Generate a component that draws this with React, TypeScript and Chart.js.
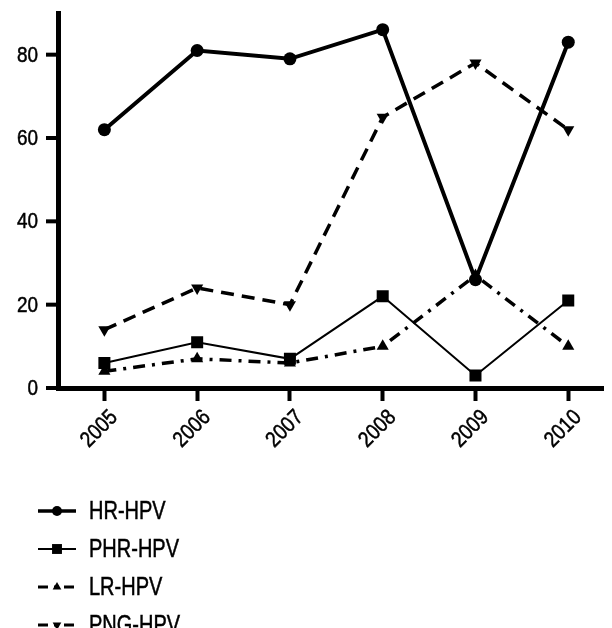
import React, { useEffect, useRef } from "react";
import { Chart, registerables } from "chart.js";

Chart.register(...registerables);

const years = [2005, 2006, 2007, 2008, 2009, 2010];
const yTicks = [0, 20, 40, 60, 80];
const seriesNames = ["HR-HPV", "PHR-HPV", "LR-HPV", "PNG-HPV"];
const hrHpv = [62, 81, 79, 86, 26, 83];
const phrHpv = [6, 11, 7, 22, 3, 21];
const lrHpv = [4, 7, 6, 10, 27, 10];
const pngHpv = [14, 24, 20, 65, 78, 62];

const X_MIN = 2004.5;
const X_MAX = 2010.38;
const FONT = "'Liberation Sans', Arial, sans-serif";

function narrowText(
  ctx: CanvasRenderingContext2D,
  text: string,
  x: number,
  y: number,
  size: number,
  sx: number,
  align: CanvasTextAlign,
  rot = 0
) {
  ctx.save();
  ctx.setLineDash([]);
  ctx.fillStyle = "#000";
  ctx.strokeStyle = "#000";
  ctx.lineWidth = 0.5;
  ctx.font = `${size}px ${FONT}`;
  ctx.textBaseline = "middle";
  ctx.textAlign = align;
  ctx.translate(x, y);
  if (rot) ctx.rotate(rot);
  ctx.scale(sx, 1);
  ctx.fillText(text, 0, 0);
  ctx.strokeText(text, 0, 0);
  ctx.restore();
}

function drawMarker(ctx: CanvasRenderingContext2D, style: string, rot: number, x: number, y: number, r: number) {
  ctx.save();
  ctx.fillStyle = "#000";
  ctx.setLineDash([]);
  ctx.beginPath();
  if (style === "circle") {
    ctx.arc(x, y, r, 0, Math.PI * 2);
  } else if (style === "rect") {
    const s = r * Math.SQRT1_2;
    ctx.rect(x - s, y - s, 2 * s, 2 * s);
  } else {
    const dir = rot === 180 ? -1 : 1;
    const h = r * 1.5;
    const w = (r * Math.sqrt(3)) / 2;
    ctx.moveTo(x, y - dir * h * 0.67);
    ctx.lineTo(x - w, y + dir * h * 0.33);
    ctx.lineTo(x + w, y + dir * h * 0.33);
    ctx.closePath();
  }
  ctx.fill();
  ctx.restore();
}

const labelsPlugin = {
  id: "narrowLabels",
  afterDraw(chart: any) {
    const ctx: CanvasRenderingContext2D = chart.ctx;
    const xs = chart.scales.x;
    const ys = chart.scales.y;
    const axisX = xs.getPixelForValue(X_MIN);
    yTicks.forEach((v) => {
      const py = ys.getPixelForValue(v);
      ctx.save();
      ctx.setLineDash([]);
      ctx.globalAlpha = 1;
      ctx.fillStyle = "#000000";
      ctx.beginPath();
      ctx.rect(axisX - 12, py - 2, 13, 4);
      ctx.fill();
      ctx.restore();
      narrowText(ctx, String(v), 38, py + 1, 22, 0.86, "right");
    });
    years.forEach((v) => {
      const px = xs.getPixelForValue(v);
      narrowText(ctx, String(v), px - 5, 429, 22, 0.86, "center", -Math.PI / 4);
    });
    chart.data.datasets.forEach((ds: any, i: number) => {
      const y = 511 + 38 * i;
      ctx.save();
      ctx.strokeStyle = "#000";
      ctx.lineWidth = ds.legendWidth;
      ctx.setLineDash(ds.legendDash || []);
      ctx.beginPath();
      ctx.moveTo(38, y);
      ctx.lineTo(76, y);
      ctx.stroke();
      ctx.restore();
      drawMarker(ctx, ds.pointStyle, ds.pointRotation || 0, 57, y, ds.legendRadius);
      narrowText(ctx, ds.label, 89, y + 1, 25, 0.8, "left");
    });
  },
};

export default function App() {
  const ref = useRef<HTMLCanvasElement>(null);

  useEffect(() => {
    document.body.style.margin = "0";
    const toPts = (arr: number[]) => arr.map((v, i) => ({ x: years[i], y: v }));
    const chart = new Chart(ref.current!, {
      type: "line",
      data: {
        datasets: [
          {
            label: seriesNames[0],
            data: toPts(hrHpv),
            borderColor: "#000",
            backgroundColor: "#000",
            borderWidth: 4,
            pointStyle: "circle",
            pointRadius: 6.5,
            pointBackgroundColor: "#000",
            pointBorderColor: "#000",
            pointBorderWidth: 0,
            legendRadius: 5,
            legendWidth: 3.5,
            legendDash: [],
          } as any,
          {
            label: seriesNames[1],
            data: toPts(phrHpv),
            borderColor: "#000",
            backgroundColor: "#000",
            borderWidth: 2,
            pointStyle: "rect",
            pointRadius: 8.5,
            pointBackgroundColor: "#000",
            pointBorderColor: "#000",
            pointBorderWidth: 0,
            legendRadius: 7,
            legendWidth: 2,
            legendDash: [],
          } as any,
          {
            label: seriesNames[2],
            data: toPts(lrHpv),
            borderColor: "#000",
            backgroundColor: "#000",
            borderWidth: 3.5,
            borderDash: [12, 7, 3, 7],
            pointStyle: "triangle",
            pointRadius: 7,
            pointBackgroundColor: "#000",
            pointBorderColor: "#000",
            pointBorderWidth: 0,
            legendRadius: 5,
            legendWidth: 3,
            legendDash: [10, 6, 5, 5],
          } as any,
          {
            label: seriesNames[3],
            data: toPts(pngHpv),
            borderColor: "#000",
            backgroundColor: "#000",
            borderWidth: 3.5,
            borderDash: [13, 8],
            pointStyle: "triangle",
            pointRotation: 180,
            pointRadius: 7,
            pointBackgroundColor: "#000",
            pointBorderColor: "#000",
            pointBorderWidth: 0,
            legendRadius: 5,
            legendWidth: 3,
            legendDash: [10, 6, 5, 5],
          } as any,
        ],
      },
      options: {
        animation: false,
        responsive: true,
        maintainAspectRatio: false,
        layout: { padding: { top: 13, left: 0, right: 0, bottom: 0 } },
        plugins: { legend: { display: false }, tooltip: { enabled: false } },
        elements: { line: { tension: 0 } },
        scales: {
          x: {
            type: "linear",
            min: X_MIN,
            max: X_MAX,
            afterBuildTicks: (scale: any) => {
              scale.ticks = years.map((v) => ({ value: v }));
            },
            afterFit: (scale: any) => {
              scale.height = 240;
              scale.paddingLeft = 0;
              scale.paddingRight = 0;
            },
            border: { display: true, color: "#000", width: 5 },
            grid: {
              display: true,
              drawOnChartArea: false,
              drawTicks: true,
              tickLength: 13,
              tickWidth: 4,
              tickColor: "#000",
            },
            ticks: { display: true, autoSkip: false, maxRotation: 0, callback: () => "" },
          },
          y: {
            type: "linear",
            min: 0,
            max: 90,
            afterBuildTicks: (scale: any) => {
              scale.ticks = yTicks.map((v) => ({ value: v }));
            },
            afterFit: (scale: any) => {
              scale.width = 58;
            },
            border: { display: true, color: "#000", width: 5 },
            grid: { display: true, drawOnChartArea: false, drawTicks: false },
            ticks: { display: true, callback: () => "" },
          },
        },
      },
      plugins: [labelsPlugin],
    });
    return () => chart.destroy();
  }, []);

  return (
    <div style={{ position: "absolute", left: 0, top: 0, width: 612, height: 628, background: "#fff" }}>
      <canvas ref={ref} />
    </div>
  );
}
